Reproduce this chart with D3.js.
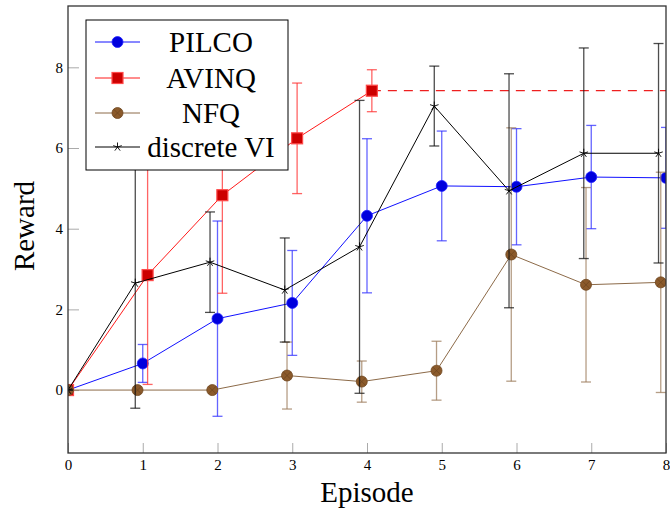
<!DOCTYPE html>
<html>
<head>
<meta charset="utf-8">
<script src="https://cdn.jsdelivr.net/npm/d3@7"></script>
<style>
  html, body { margin: 0; padding: 0; background: #fff; }
  svg { display: block; }
  text { font-family: "Liberation Serif", "Times New Roman", serif; fill: #000; }
</style>
</head>
<body>
<svg id="chart" width="670" height="518"></svg>
<script>
// Episode positions (each method is shifted slightly so its error bars stay visible)
const pilcoX = [0, 1, 2, 3, 4, 5, 6, 7, 8];
const pilcoY = [0, 0.66, 1.77, 2.16, 4.32, 5.06, 5.04, 5.28, 5.26];
const pilcoErr = [0, 0.47, 2.42, 1.3, 1.91, 1.36, 1.44, 1.28, 1.25];

const avinqX = [0, 1.065, 2.065, 3.065, 4.065];
const avinqY = [0, 2.85, 4.83, 6.24, 7.42];
const avinqErr = [0, 2.71, 2.43, 1.37, 0.52];

const nfqX = [0, 0.93, 1.93, 2.93, 3.93, 4.93, 5.93, 6.93, 7.93];
const nfqY = [0, 0, 0, 0.36, 0.21, 0.48, 3.36, 2.61, 2.67];
const nfqErr = [0, 0, 0, 0.83, 0.51, 0.73, 3.14, 2.41, 2.73];

const viX = [0, 0.9, 1.9, 2.9, 3.9, 4.9, 5.9, 6.9, 7.9];
const viY = [0, 2.65, 3.17, 2.48, 3.55, 7.04, 4.94, 5.87, 5.87];
const viErr = [0, 3.1, 1.245, 1.29, 3.63, 0.99, 2.9, 2.61, 2.72];

const xTicks = [0, 1, 2, 3, 4, 5, 6, 7, 8];
const yTicks = [0, 2, 4, 6, 8];
const seriesNames = ["PILCO", "AVINQ", "NFQ", "discrete VI"];

const svg = d3.select("#chart");
const box = { left: 68, right: 666, top: 6, bottom: 453 };

const x = d3.scaleLinear().domain([0, 8]).range([box.left, box.right]);
const y = d3.scaleLinear().domain([-1.56, 9.52]).range([box.bottom, box.top]);

const series = [
  { name: seriesNames[0], xs: pilcoX, ys: pilcoY, err: pilcoErr, line: "#1010ff", bar: "#3030ff", fill: "#0000dd", stroke: "#2020ff", mark: "circle" },
  { name: seriesNames[1], xs: avinqX, ys: avinqY, err: avinqErr, line: "#ff1a1a", bar: "#ff3030", fill: "#cc0000", stroke: "#ff4a4a", mark: "square" },
  { name: seriesNames[2], xs: nfqX, ys: nfqY, err: nfqErr, line: "#8c6a48", bar: "#9c7c5c", fill: "#8b5a2b", stroke: "#6e4620", mark: "otimes" },
  { name: seriesNames[3], xs: viX, ys: viY, err: viErr, line: "#000000", bar: "#111111", fill: "none", stroke: "#000", mark: "star" }
];

// Clip marks to the axis box
svg.append("defs").append("clipPath").attr("id", "plotClip")
  .append("rect").attr("x", box.left).attr("y", box.top)
  .attr("width", box.right - box.left).attr("height", box.bottom - box.top);

// Axis ticks (inward, grey) on left and bottom
const xAxis = d3.axisBottom(x).tickValues(xTicks).tickSize(-10).tickPadding(6).tickFormat(d3.format("d"));
const yAxis = d3.axisLeft(y).tickValues(yTicks).tickSize(-11).tickPadding(6).tickFormat(d3.format("d"));

const gx = svg.append("g").attr("transform", `translate(0,${box.bottom})`).call(xAxis);
const gy = svg.append("g").attr("transform", `translate(${box.left},0)`).call(yAxis);
[gx, gy].forEach(g => {
  g.select(".domain").remove();
  g.selectAll(".tick line").attr("stroke", "#aaa").attr("stroke-width", 1);
  g.selectAll(".tick text").style("font-family", "'Liberation Serif', serif").style("font-size", "15px").attr("fill", "#000");
});
gx.selectAll(".tick text").attr("dy", "0.95em").attr("y", 3);
gy.selectAll(".tick text").attr("x", -5);

const plot = svg.append("g").attr("clip-path", "url(#plotClip)");

// Dashed level at AVINQ's final reward
const avLast = avinqX.length - 1;
plot.append("line")
  .attr("x1", x(avinqX[avLast])).attr("x2", x(8))
  .attr("y1", y(avinqY[avLast])).attr("y2", y(avinqY[avLast]))
  .attr("stroke", "#ee2020").attr("stroke-width", 1.2)
  .attr("stroke-dasharray", "9,7");

const cap = 5;
function drawMark(g, type, s, cx, cy) {
  if (type === "circle") {
    g.append("circle").attr("cx", cx).attr("cy", cy).attr("r", 5.5)
      .attr("fill", s.fill).attr("stroke", s.stroke).attr("stroke-width", 0.8);
  } else if (type === "square") {
    g.append("rect").attr("x", cx - 5.5).attr("y", cy - 5.5).attr("width", 11).attr("height", 11)
      .attr("fill", s.fill).attr("stroke", s.stroke).attr("stroke-width", 1.2);
  } else if (type === "otimes") {
    g.append("circle").attr("cx", cx).attr("cy", cy).attr("r", 5.5)
      .attr("fill", s.fill).attr("stroke", s.stroke).attr("stroke-width", 0.8);
    const d = 5.5 * Math.SQRT1_2;
    g.append("path")
      .attr("d", `M${cx - d},${cy - d}L${cx + d},${cy + d}M${cx - d},${cy + d}L${cx + d},${cy - d}`)
      .attr("stroke", s.stroke).attr("stroke-width", 0.8).attr("fill", "none");
  } else if (type === "star") {
    let p = "";
    for (let k = 0; k < 5; k++) {
      const a = -Math.PI / 2 + k * 2 * Math.PI / 5;
      p += `M${cx},${cy}L${cx + 4.5 * Math.cos(a)},${cy + 4.5 * Math.sin(a)}`;
    }
    g.append("path").attr("d", p).attr("stroke", "#000").attr("stroke-width", 0.9).attr("fill", "none");
  }
}

series.forEach(s => {
  const pts = s.xs.map((v, i) => ({ x: v, y: s.ys[i], e: s.err[i] }));
  const g = plot.append("g");
  // error bars
  const eb = g.append("g").attr("stroke", s.bar).attr("stroke-width", 1.3).attr("stroke-opacity", 0.75).attr("fill", "none");
  pts.forEach(p => {
    const px = x(p.x), y1 = y(p.y - p.e), y2 = y(p.y + p.e);
    eb.append("line").attr("x1", px).attr("x2", px).attr("y1", y1).attr("y2", y2);
    eb.append("line").attr("x1", px - cap).attr("x2", px + cap).attr("y1", y1).attr("y2", y1);
    eb.append("line").attr("x1", px - cap).attr("x2", px + cap).attr("y1", y2).attr("y2", y2);
  });
  // connecting line
  g.append("path").datum(pts)
    .attr("d", d3.line().x(d => x(d.x)).y(d => y(d.y)))
    .attr("fill", "none").attr("stroke", s.line).attr("stroke-width", 1);
  // markers
  pts.forEach(p => drawMark(g, s.mark, s, x(p.x), y(p.y)));
});

// Axis box
svg.append("rect").attr("x", box.left).attr("y", box.top)
  .attr("width", box.right - box.left).attr("height", box.bottom - box.top)
  .attr("fill", "none").attr("stroke", "#333").attr("stroke-width", 1.3);

// Legend
const lg = svg.append("g");
lg.append("rect").attr("x", 86).attr("y", 20).attr("width", 202).attr("height", 150)
  .attr("fill", "#fff").attr("stroke", "#000").attr("stroke-width", 1);
const rowY = [42, 78, 113, 147];
series.forEach((s, i) => {
  const ry = rowY[i];
  lg.append("line").attr("x1", 95).attr("x2", 140).attr("y1", ry).attr("y2", ry)
    .attr("stroke", s.line).attr("stroke-width", 1);
  drawMark(lg, s.mark, s, 117.5, ry);
  lg.append("text").attr("x", 211).attr("y", ry).attr("dy", "0.35em")
    .attr("text-anchor", "middle").style("font-size", "29px").text(s.name);
});

// Axis titles
svg.append("text").attr("x", (box.left + box.right) / 2).attr("y", 502)
  .attr("text-anchor", "middle").style("font-size", "29px").text("Episode");
svg.append("text").attr("transform", "translate(34,226) rotate(-90)")
  .attr("text-anchor", "middle").style("font-size", "29px").text("Reward");
</script>
</body>
</html>
